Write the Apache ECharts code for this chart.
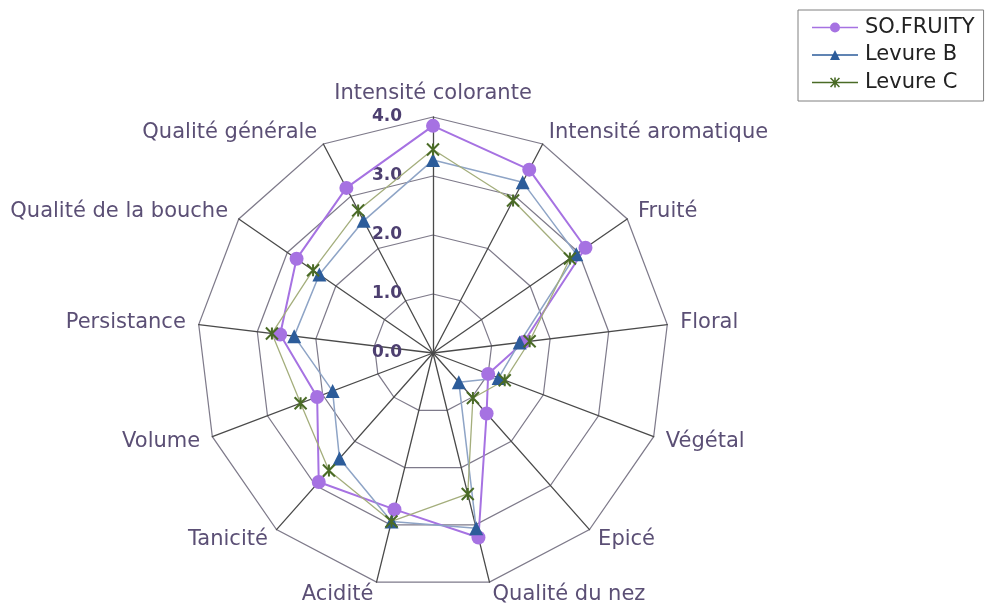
<!DOCTYPE html>
<html><head><meta charset="utf-8">
<script src="https://cdn.jsdelivr.net/npm/echarts@6/dist/echarts.min.js"></script>
<style>html,body{margin:0;padding:0;background:#fff}#c{width:986px;height:603px}</style>
</head><body><div id="c"></div>
<script>
// Categories listed clockwise starting from the top
const categories = ['Intensité colorante','Intensité aromatique','Fruité','Floral','Végétal','Epicé','Qualité du nez','Acidité','Tanicité','Volume','Persistance','Qualité de la bouche','Qualité générale'];
const soFruity = [3.85, 3.51, 3.14, 1.55, 1.00, 1.37, 3.22, 2.73, 2.92, 2.10, 2.61, 2.81, 3.16];
const levureB  = [3.27, 3.27, 2.95, 1.48, 1.19, 0.66, 3.06, 2.94, 2.39, 1.82, 2.37, 2.34, 2.53];
const levureC  = [3.45, 2.92, 2.82, 1.65, 1.30, 1.02, 2.46, 2.94, 2.66, 2.40, 2.75, 2.47, 2.73];
const seriesNames = ['SO.FRUITY', 'Levure B', 'Levure C'];
const axisMin = 0, axisMax = 4, axisStep = 1;

// ECharts radar runs counter-clockwise: keep first at top, reverse the rest
const order = [0].concat(categories.map((_, i) => i).slice(1).reverse());
const reorder = a => order.map(i => a[i]);

const FONT = 'DejaVu Sans';
const chart = echarts.init(document.getElementById('c'), null, {renderer: 'canvas'});
const starPath = 'path://M0,0L10,10M10,0L0,10M5,0L5,10';

// legend icons (line + marker), 46 x 10 box
const legLine = 'M0,4.3H46V5.7H0Z';
const iconCircle = 'path://' + legLine + 'M18,5A5,5 0 1,1 28,5A5,5 0 1,1 18,5Z';
const iconTri = 'path://' + legLine + 'M18,10L23,0L28,10Z';
const iconStar = 'path://' + legLine + 'M22.2,0H23.8V10H22.2Z' +
  'M19.1,0L28,8.9L26.9,10L18,1.1Z' + 'M26.9,0L28,1.1L19.1,10L18,8.9Z';

const option = {
  animation: false,
  backgroundColor: '#fff',
  legend: {
    orient: 'vertical',
    left: 798, top: 10,
    padding: [7, 9, 8, 14],
    itemWidth: 46, itemHeight: 10, itemGap: 6.5,
    borderColor: '#808080', borderWidth: 1,
    textStyle: {fontFamily: FONT, fontSize: 21, color: '#222', lineHeight: 20, padding: [0, 0, 0, 2]},
    data: [
      {name: seriesNames[0], icon: iconCircle, itemStyle: {color: '#a672e2', borderWidth: 0}},
      {name: seriesNames[1], icon: iconTri, itemStyle: {color: '#2c5c9a', borderWidth: 0}},
      {name: seriesNames[2], icon: iconStar, itemStyle: {color: '#4a6b26', borderWidth: 0}}
    ]
  },
  radar: {
    center: [433, 353], radius: 236, startAngle: 90,
    splitNumber: 4, shape: 'polygon',
    indicator: reorder(categories).map(n => ({name: n, min: axisMin, max: axisMax})),
    axisName: {color: '#5b4f75', fontSize: 21, fontFamily: FONT},
    nameGap: 13,
    splitLine: {lineStyle: {color: '#7e7a8a', width: 1.2}},
    splitArea: {show: false},
    axisLine: {lineStyle: {color: '#4a4a4a', width: 1.3}},
    axisTick: {show: false},
    axisLabel: {show: false}
  },
  polar: {center: [433, 353], radius: 236},
  angleAxis: {type: 'value', show: false, startAngle: 90, min: 0, max: 360},
  radiusAxis: {
    type: 'value', min: axisMin, max: axisMax, interval: axisStep,
    axisLine: {show: false}, axisTick: {show: false}, splitLine: {show: false},
    axisLabel: {
      show: true, margin: 31,
      formatter: v => v.toFixed(1),
      fontFamily: FONT, fontSize: 17, fontWeight: 'bold', color: '#4d3f70'
    }
  },
  series: [{
    type: 'radar',
    data: [
      {
        name: seriesNames[0], value: reorder(soFruity),
        symbol: 'circle', symbolSize: 14,
        lineStyle: {color: '#a672e2', width: 2},
        itemStyle: {color: '#a672e2'}
      },
      {
        name: seriesNames[1], value: reorder(levureB),
        symbol: 'triangle', symbolSize: 14,
        lineStyle: {color: '#8ea4c6', width: 1.5},
        itemStyle: {color: '#2c5c9a'}
      },
      {
        name: seriesNames[2], value: reorder(levureC),
        symbol: starPath, symbolSize: 12,
        lineStyle: {color: '#a4ae7c', width: 1.3},
        itemStyle: {color: '#4a6b26', borderColor: '#4a6b26', borderWidth: 2}
      }
    ]
  }]
};
chart.setOption(option);
</script>
</body></html>
